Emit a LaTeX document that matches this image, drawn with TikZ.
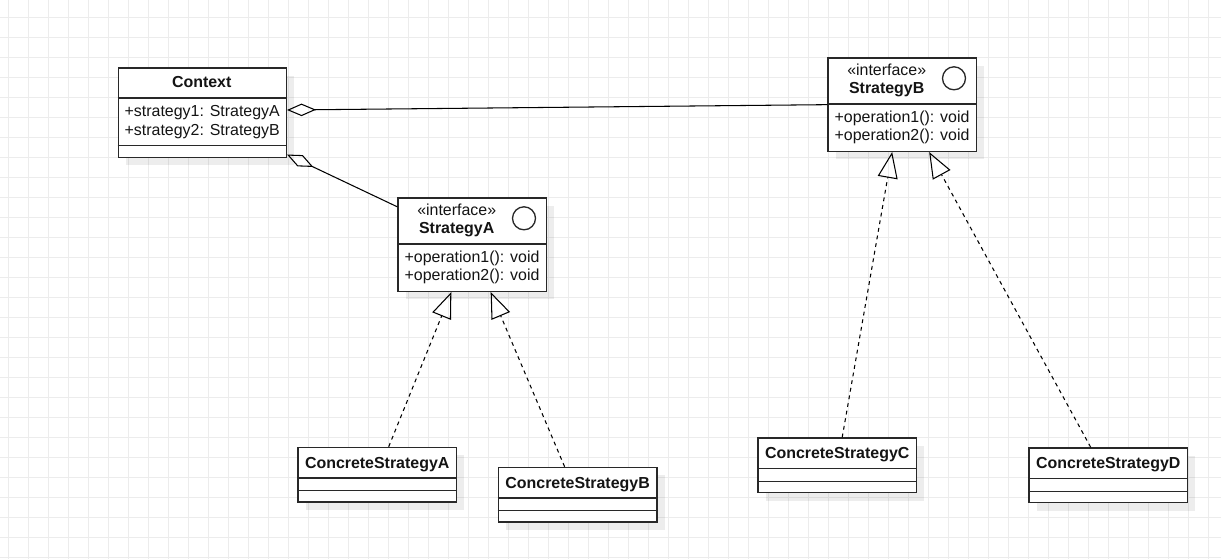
\documentclass[tikz,border=0pt]{standalone}
\usepackage{fontspec}
\setmainfont{Liberation Sans}
\usetikzlibrary{calc,shadows,arrows.meta,positioning}
\definecolor{gridc}{RGB}{236,236,236}
\definecolor{bd}{RGB}{40,40,40}
\definecolor{txt}{RGB}{20,20,20}

\begin{document}
\begin{tikzpicture}[x=0.02cm, y=-0.02cm,
  cls/.style n args={2}{draw=bd, line width=0.75pt, fill=white, anchor=north west, inner sep=0pt,
    minimum width=#1*0.02cm, minimum height=#2*0.02cm,
    drop shadow={shadow xshift=0.16cm, shadow yshift=-0.16cm, fill=black, opacity=0.07}},
  sep/.style={draw=bd, line width=0.75pt},
  lbl/.style={inner sep=0pt, text=txt, font=\fontsize{9.07}{11}\selectfont},
  ttl/.style={lbl, anchor=base, font=\fontsize{9.07}{11}\selectfont\bfseries},
  mem/.style={lbl, anchor=base west},
  aggr/.style={-{Diamond[open, length=0.58cm, width=0.25cm]}, line width=0.6pt, black},
  realize/.style={-{Triangle[open, length=0.52cm, width=0.4cm]}, line width=0.6pt, black,
    dash pattern=on 2.2pt off 2.2pt}
]
\useasboundingbox (0,0) rectangle (1221,559);
% background grid
\foreach \gx in {8,28,...,1221} \draw[gridc, line width=0.5pt] (\gx,0) -- (\gx,559);
\foreach \gy in {17,37,...,559} \draw[gridc, line width=0.5pt] (0,\gy) -- (1221,\gy);

% Context
\node[cls={168}{89.4}] (ctx) at (117.7,67.3) {};
\draw[sep] ($(ctx.north west)+(0,30.7)$) -- ($(ctx.north east)+(0,30.7)$);
\draw[sep] ($(ctx.north west)+(0,78.4)$) -- ($(ctx.north east)+(0,78.4)$);
\node[ttl] (ctxT) at (201.7,87.7) {Context};
\node[mem] (ctxA1) at (124.3,116.7) {+strategy1: StrategyA};
\node[mem] (ctxA2) at (124.3,135.2) {+strategy2: StrategyB};

% StrategyB interface
\node[cls={148.4}{93.4}] (sb) at (827.3,57.3) {};
\draw[sep] ($(sb.north west)+(0,46.7)$) -- ($(sb.north east)+(0,46.7)$);
\node[lbl, anchor=base] (sbS) at (886.7,75) {«interface»};
\node[ttl] (sbT) at (886.7,93.3) {StrategyB};
\node[draw=bd, line width=0.75pt, circle, minimum size=0.46cm, inner sep=0pt] (sbC) at (954,78.3) {};
\node[mem] (sbO1) at (834.3,122.7) {+operation1(): void};
\node[mem] (sbO2) at (834.3,140.9) {+operation2(): void};

% StrategyA interface
\node[cls={148.4}{93.4}] (sa) at (397.3,197.3) {};
\draw[sep] ($(sa.north west)+(0,46.7)$) -- ($(sa.north east)+(0,46.7)$);
\node[lbl, anchor=base] (saS) at (456.7,215) {«interface»};
\node[ttl] (saT) at (456.7,233.3) {StrategyA};
\node[draw=bd, line width=0.75pt, circle, minimum size=0.46cm, inner sep=0pt] (saC) at (524,218.3) {};
\node[mem] (saO1) at (404.3,262.7) {+operation1(): void};
\node[mem] (saO2) at (404.3,280.9) {+operation2(): void};

% concrete strategies
\foreach \nm/\x/\y/\lt in {csa/297.3/446.7/A, csb/497.7/466.7/B, csc/757.3/437.3/C, csd/1028.3/447.3/D}{
  \node[cls={158.5}{54.7}] (\nm) at (\x,\y) {};
  \draw[sep] ($(\nm.north west)+(0,31.4)$) -- ($(\nm.north east)+(0,31.4)$);
  \draw[sep] ($(\nm.north west)+(0,44)$) -- ($(\nm.north east)+(0,44)$);
  \node[ttl] (\nm T) at ($(\nm.north)+(0,21.4)$) {ConcreteStrategy\lt};
}

% aggregations from Context
\draw[aggr] (sb.west) -- ($(ctx.north east)+(0,42.7)$);
\draw[aggr] ($(sa.north west)+(0,9.5)$) -- ($(ctx.south east)+(0,-3.5)$);

% realizations
\draw[realize] ($(csa.north)+(11.5,0)$) -- ($(sa.south)+(-20.8,0)$);
\draw[realize] ($(csb.north)+(-13,0)$) -- ($(sa.south)+(18.5,0)$);
\draw[realize] ($(csc.north)+(5,0)$) -- ($(sb.south)+(-10,0)$);
\draw[realize] ($(csd.north)+(-17.5,0)$) -- ($(sb.south)+(27,0)$);
\end{tikzpicture}
\end{document}
